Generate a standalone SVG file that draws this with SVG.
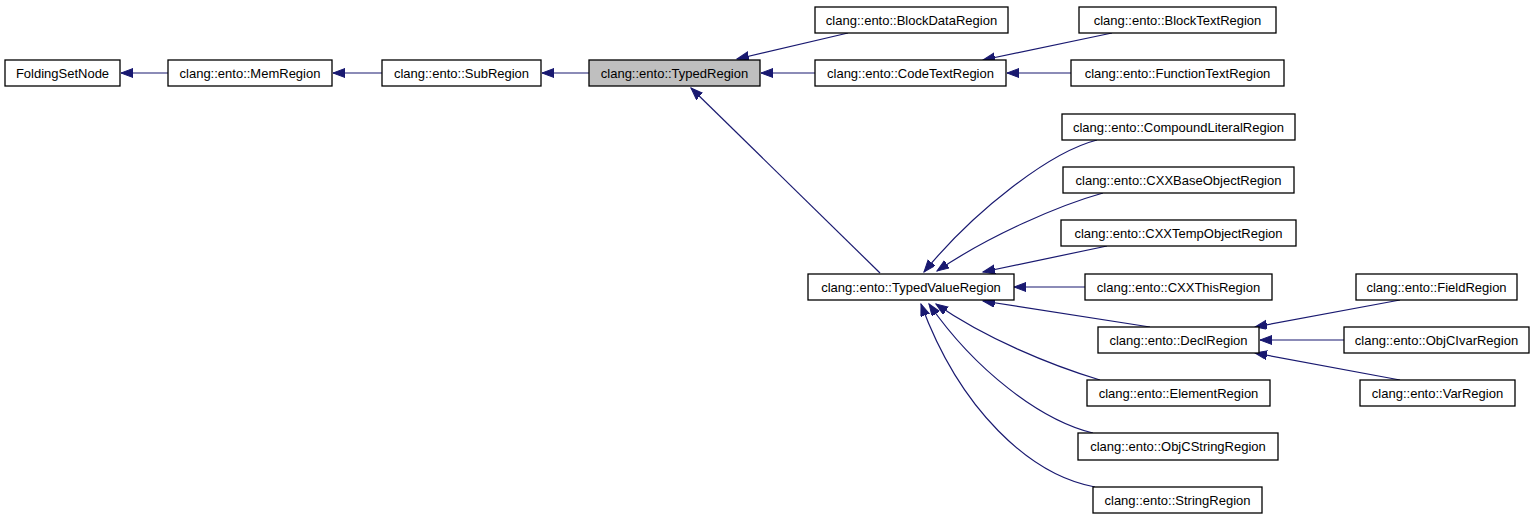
<svg xmlns="http://www.w3.org/2000/svg" width="1536" height="520" viewBox="0 0 1536 520">
<style>
.n rect{fill:#ffffff;stroke:#000000;stroke-width:1.3}
.n.hl rect{fill:#bfbfbf}
.n text{font-family:"Liberation Sans",Arial,sans-serif;font-size:13px;fill:#000000;text-anchor:middle}
.e path{fill:none;stroke:#191970;stroke-width:1.2;marker-end:url(#ah)}
</style>
<defs>
<marker id="ah" markerUnits="userSpaceOnUse" markerWidth="14" markerHeight="10" refX="12" refY="4.5" orient="auto" viewBox="0 0 14 10">
<path d="M0,0 L12,4.5 L0,9 z" fill="#191970" stroke="#191970" stroke-width="1"/>
</marker>
</defs>
<rect width="1536" height="520" fill="#ffffff"/>
<g id="edges" class="e">
<path d="M168,73 L121,73"/>
<path d="M382,73 L333,73"/>
<path d="M589,73 L542,73"/>
<path d="M848,33 L737,59"/>
<path d="M815,73 L761,73"/>
<path d="M880,273 L691,88"/>
<path d="M1112,33 L983,60"/>
<path d="M1071,73 L1007,73"/>
<path d="M1097,140 C1050,152 975,210 924,272"/>
<path d="M1103,193 C1060,205 990,235 937,271"/>
<path d="M1107,246 L983,272"/>
<path d="M1085,287 L1014,287"/>
<path d="M1150,327 L983,301"/>
<path d="M1100,380 C1050,365 985,338 936,304"/>
<path d="M1093,433 C1040,420 975,370 929,304"/>
<path d="M1095,487 C1030,475 960,410 921,304"/>
<path d="M1400,300 L1255,327"/>
<path d="M1344,340 L1260,340"/>
<path d="M1400,380 L1255,353"/>
</g>
<g id="FoldingSetNode" class="n"><rect x="5" y="60" width="115" height="26"/><text x="62.5" y="77.5">FoldingSetNode</text></g>
<g id="MemRegion" class="n"><rect x="168" y="60" width="164" height="26"/><text x="250" y="77.5">clang::ento::MemRegion</text></g>
<g id="SubRegion" class="n"><rect x="382" y="60" width="159" height="26"/><text x="461.5" y="77.5">clang::ento::SubRegion</text></g>
<g id="TypedRegion" class="n hl"><rect x="589" y="60" width="171" height="26"/><text x="674.5" y="77.5">clang::ento::TypedRegion</text></g>
<g id="BlockDataRegion" class="n"><rect x="815" y="7" width="193" height="26"/><text x="911.5" y="24.5">clang::ento::BlockDataRegion</text></g>
<g id="CodeTextRegion" class="n"><rect x="815" y="60" width="191" height="26"/><text x="910.5" y="77.5">clang::ento::CodeTextRegion</text></g>
<g id="BlockTextRegion" class="n"><rect x="1079" y="7" width="197" height="26"/><text x="1177.5" y="24.5">clang::ento::BlockTextRegion</text></g>
<g id="FunctionTextRegion" class="n"><rect x="1071" y="60" width="213" height="26"/><text x="1177.5" y="77.5">clang::ento::FunctionTextRegion</text></g>
<g id="CompoundLiteralRegion" class="n"><rect x="1062" y="114" width="233" height="26"/><text x="1178.5" y="131.5">clang::ento::CompoundLiteralRegion</text></g>
<g id="CXXBaseObjectRegion" class="n"><rect x="1063" y="167" width="231" height="26"/><text x="1178.5" y="184.5">clang::ento::CXXBaseObjectRegion</text></g>
<g id="CXXTempObjectRegion" class="n"><rect x="1061" y="220" width="235" height="26"/><text x="1178.5" y="237.5">clang::ento::CXXTempObjectRegion</text></g>
<g id="TypedValueRegion" class="n"><rect x="808" y="274" width="206" height="26"/><text x="911" y="291.5">clang::ento::TypedValueRegion</text></g>
<g id="CXXThisRegion" class="n"><rect x="1085" y="274" width="187" height="26"/><text x="1178.5" y="291.5">clang::ento::CXXThisRegion</text></g>
<g id="DeclRegion" class="n"><rect x="1098" y="327" width="161" height="26"/><text x="1178.5" y="344.5">clang::ento::DeclRegion</text></g>
<g id="FieldRegion" class="n"><rect x="1356" y="274" width="161" height="26"/><text x="1436.5" y="291.5">clang::ento::FieldRegion</text></g>
<g id="ObjCIvarRegion" class="n"><rect x="1344" y="327" width="185" height="26"/><text x="1436.5" y="344.5">clang::ento::ObjCIvarRegion</text></g>
<g id="VarRegion" class="n"><rect x="1360" y="380" width="155" height="26"/><text x="1437.5" y="397.5">clang::ento::VarRegion</text></g>
<g id="ElementRegion" class="n"><rect x="1087" y="380" width="183" height="26"/><text x="1178.5" y="397.5">clang::ento::ElementRegion</text></g>
<g id="ObjCStringRegion" class="n"><rect x="1078" y="433" width="200" height="27"/><text x="1178" y="451">clang::ento::ObjCStringRegion</text></g>
<g id="StringRegion" class="n"><rect x="1093" y="487" width="169" height="26"/><text x="1177.5" y="504.5">clang::ento::StringRegion</text></g>
</svg>
